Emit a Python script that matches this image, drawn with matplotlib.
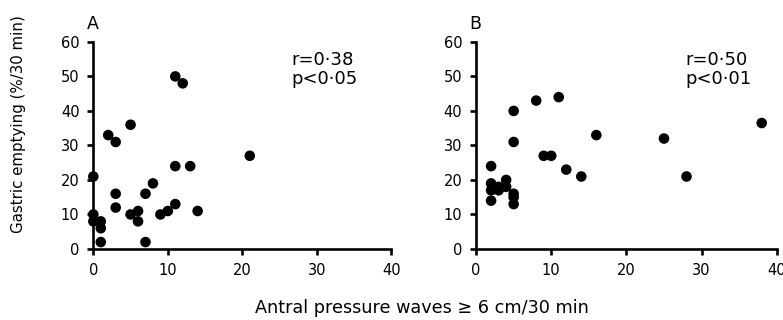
import matplotlib
matplotlib.use("Agg")
import matplotlib.pyplot as plt

plt.rcParams["font.family"] = ["DejaVu Sans"]

# Panel A: antral pressure waves vs gastric emptying
a_waves = [11, 12, 5, 2, 3, 21, 11, 13, 0, 8, 3, 7, 3, 11, 5, 6, 6, 9, 10, 14,
           0, 0, 1, 1, 1, 7]
a_empty = [50, 48, 36, 33, 31, 27, 24, 24, 21, 19, 16, 16, 12, 13, 10, 11, 8, 10, 11, 11,
           10, 8, 8, 6, 2, 2]
a_r = "r=0·38"
a_p = "p<0·05"

# Panel B
b_waves = [2, 2, 2, 2, 3, 3, 4, 4, 5, 5, 5, 5, 5, 8, 9, 10, 11, 12, 14, 16,
           25, 28, 38]
b_empty = [24, 19, 17, 14, 18, 17, 20, 18, 16, 15, 13, 40, 31, 43, 27, 27, 44, 23, 21, 33,
           32, 21, 36.5]
b_r = "r=0·50"
b_p = "p<0·01"

x_ticks = [0, 10, 20, 30, 40]
y_ticks = [0, 10, 20, 30, 40, 50, 60]

fig = plt.figure(figsize=(7.83, 3.2), dpi=100)
ax_a = fig.add_axes([0.1192, 0.222, 0.3806, 0.647])
ax_b = fig.add_axes([0.608, 0.222, 0.384, 0.647])

panels = [(ax_a, a_waves, a_empty, a_r, a_p, "A", 26.6),
          (ax_b, b_waves, b_empty, b_r, b_p, "B", 27.9)]
for ax, xs, ys, r_txt, p_txt, tag, tx in panels:
    ax.scatter(xs, ys, s=58, color="black", edgecolors="none", clip_on=False, zorder=3)
    ax.set_xlim(0, 40)
    ax.set_ylim(0, 60)
    ax.set_xticks(x_ticks)
    ax.set_yticks(y_ticks)
    for side in ["top", "right"]:
        ax.spines[side].set_visible(False)
    for side in ["left", "bottom"]:
        ax.spines[side].set_linewidth(1.9)
    ax.tick_params(direction="out", length=4, width=1.9, labelsize=10.5, pad=6)
    ax.text(tx, 53.3, r_txt, ha="left", va="baseline", fontsize=13)
    ax.text(tx, 47.8, p_txt, ha="left", va="baseline", fontsize=13)
    ax.text(-0.022, 1.063, tag, transform=ax.transAxes, ha="left", va="baseline",
            fontsize=12.5)

fig.text(0.539, 0.022, "Antral pressure waves \u2265 6 cm/30 min", ha="center",
         va="baseline", fontsize=12.7)
fig.text(0.024, 0.6125, "Gastric emptying (%/30 min)", ha="center", va="center",
         rotation=90, fontsize=10.8)

fig.savefig("out.png", dpi=100)
